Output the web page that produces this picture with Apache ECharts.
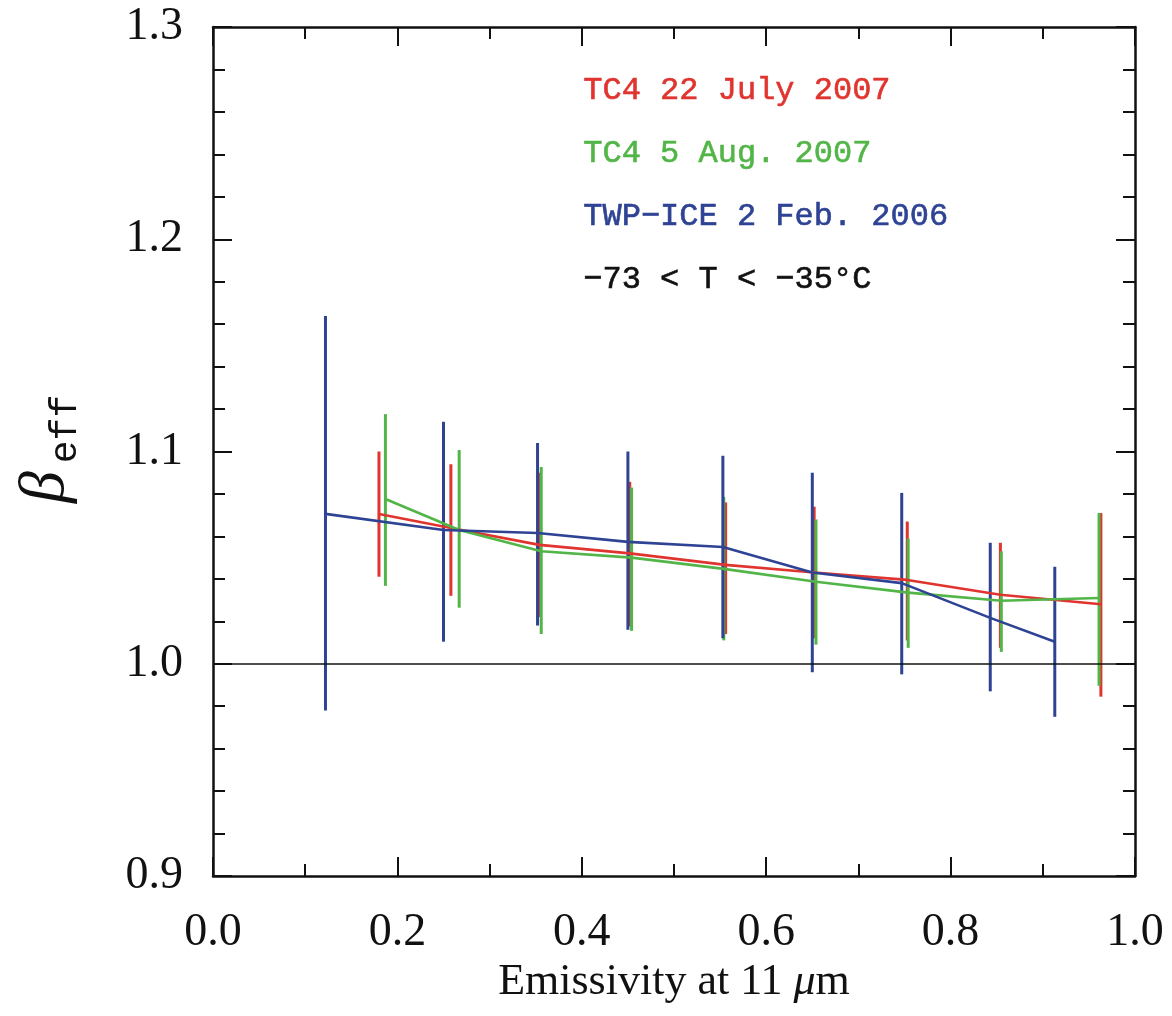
<!DOCTYPE html>
<html>
<head>
<meta charset="utf-8">
<script src="https://cdn.jsdelivr.net/npm/echarts@6/dist/echarts.min.js"></script>
<style>
  html, body { margin: 0; padding: 0; background: #fff; }
  #chart { width: 1172px; height: 1016px; }
</style>
</head>
<body>
<div id="chart"></div>
<script>
// TC4 22 July 2007
const redX  = [0.180, 0.258, 0.354, 0.452, 0.556, 0.652, 0.753, 0.854, 0.963];
const redY  = [1.0706, 1.064, 1.056, 1.052, 1.0466, 1.043, 1.0395, 1.0325, 1.028];
const redLo = [1.041, 1.032, 1.022, 1.0176, 1.014, 1.012, 1.011, 1.0075, 0.9845];
const redHi = [1.100, 1.094, 1.090, 1.0857, 1.076, 1.074, 1.067, 1.057, 1.071];

// TC4 5 Aug. 2007
const greenX  = [0.187, 0.267, 0.356, 0.454, 0.554, 0.654, 0.754, 0.855, 0.961];
const greenY  = [1.0776, 1.063, 1.053, 1.050, 1.0447, 1.0386, 1.0335, 1.0297, 1.031];
const greenLo = [1.0367, 1.0264, 1.014, 1.0155, 1.011, 1.009, 1.0075, 1.0056, 0.9896];
const greenHi = [1.1176, 1.1007, 1.0927, 1.083, 1.0786, 1.068, 1.059, 1.053, 1.071];

// TWP-ICE 2 Feb. 2006
const blueX  = [0.122, 0.250, 0.352, 0.450, 0.553, 0.650, 0.747, 0.843, 0.913];
const blueY  = [1.0706, 1.063, 1.0616, 1.0574, 1.055, 1.043, 1.038, 1.0216, 1.0104];
const blueLo = [0.978, 1.0104, 1.018, 1.016, 1.012, 0.996, 0.995, 0.987, 0.975];
const blueHi = [1.1638, 1.114, 1.104, 1.100, 1.098, 1.090, 1.0805, 1.057, 1.0457];

const labels = ['TC4 22 July 2007', 'TC4 5 Aug. 2007', 'TWP\u2212ICE 2 Feb. 2006', '\u221273 < T < \u221235\u00B0C'];
const colors = ['#e0342f', '#52b548', '#2e4394', '#111111'];

const serif = 'Liberation Serif';
const mono = 'Liberation Mono';

let chart = echarts.init(document.getElementById('chart'));

const pairs = (xs, ys) => xs.map((x, i) => [x, ys[i]]);
const bars = (xs, lo, hi) => xs.map((x, i) => [x, lo[i], hi[i]]);

const errSeries = (name, data, color, width) => ({
	name: name,
	type: 'custom',
	data: data,
	encode: { x: 0, y: [1, 2] },
	renderItem: (params, api) => {
		let a = api.coord([api.value(0), api.value(1)]);
		let b = api.coord([api.value(0), api.value(2)]);
		return {
			type: 'line',
			shape: { x1: a[0], y1: a[1], x2: b[0], y2: b[1] },
			style: { stroke: color, lineWidth: width }
		};
	},
	z: 3
});

const lineSeries = (name, data, color) => ({
	name: name,
	type: 'line',
	data: data,
	symbol: 'none',
	lineStyle: { color: color, width: 2.6 },
	z: 4
});

const axisLine = { show: true, onZero: false, lineStyle: { color: '#111', width: 2.5 } };
const tick = { inside: true, length: 19, lineStyle: { color: '#111', width: 2 } };

let option = {
	animation: false,
	grid: { left: 213, right: 37, top: 27, bottom: 140 },
	xAxis: [{
		type: 'value', min: 0, max: 1, interval: 0.2, position: 'bottom',
		axisLine: axisLine,
		axisTick: tick,
		minorTick: { show: true, splitNumber: 2, length: 12, lineStyle: { color: '#111', width: 2 } },
		splitLine: { show: false },
		axisLabel: { fontFamily: serif, fontSize: 46, color: '#111', margin: 34, formatter: v => v.toFixed(1) },
		name: '{n|Emissivity at 11 }{m|\u03BC}{n|m}',
		nameLocation: 'middle', nameGap: 52,
		nameTextStyle: {
			rich: {
				n: { fontFamily: serif, fontSize: 44, color: '#111' },
				m: { fontFamily: serif, fontSize: 44, fontStyle: 'italic', color: '#111' }
			}
		}
	}, {
		type: 'value', min: 0, max: 1, interval: 0.2, position: 'top',
		axisLine: axisLine,
		axisTick: tick,
		minorTick: { show: true, splitNumber: 2, length: 12, lineStyle: { color: '#111', width: 2 } },
		splitLine: { show: false },
		axisLabel: { show: false }
	}],
	yAxis: [{
		type: 'value', min: 0.9, max: 1.3, interval: 0.1, position: 'left',
		axisLine: axisLine,
		axisTick: tick,
		minorTick: { show: true, splitNumber: 5, length: 12, lineStyle: { color: '#111', width: 2 } },
		splitLine: { show: false },
		axisLabel: { fontFamily: serif, fontSize: 46, color: '#111', margin: 30, formatter: v => v.toFixed(1) }
	}, {
		type: 'value', min: 0.9, max: 1.3, interval: 0.1, position: 'right',
		axisLine: axisLine,
		axisTick: tick,
		minorTick: { show: true, splitNumber: 5, length: 12, lineStyle: { color: '#111', width: 2 } },
		splitLine: { show: false },
		axisLabel: { show: false }
	}],
	graphic: [
		{ type: 'text', x: 46, y: 487, rotation: Math.PI / 2,
		  style: { text: '\u03B2', font: 'italic 64px ' + serif, fill: '#111', align: 'center', verticalAlign: 'middle' } },
		{ type: 'text', x: 66, y: 429, rotation: Math.PI / 2,
		  style: { text: 'eff', font: '38px ' + mono, fill: '#111', align: 'center', verticalAlign: 'middle' } }
	].concat(labels.map((t, i) => ({
		type: 'text', left: 583, top: 74 + i * 63,
		style: { text: t, font: '32px ' + mono, fill: colors[i], stroke: colors[i], lineWidth: 0.6 }
	}))),
	series: [
		errSeries(labels[0], bars(redX, redLo, redHi), colors[0], 3),
		errSeries(labels[1], bars(greenX, greenLo, greenHi), colors[1], 3),
		errSeries(labels[2], bars(blueX, blueLo, blueHi), colors[2], 3),
		lineSeries(labels[0], pairs(redX, redY), colors[0]),
		lineSeries(labels[1], pairs(greenX, greenY), colors[1]),
		Object.assign(lineSeries(labels[2], pairs(blueX, blueY), colors[2]), {
			markLine: {
				silent: true, symbol: 'none', label: { show: false },
				lineStyle: { color: '#111', width: 1.5, type: 'solid' },
				data: [{ yAxis: 1.0 }]
			}
		})
	]
};
chart.setOption(option);
</script>
</body>
</html>
